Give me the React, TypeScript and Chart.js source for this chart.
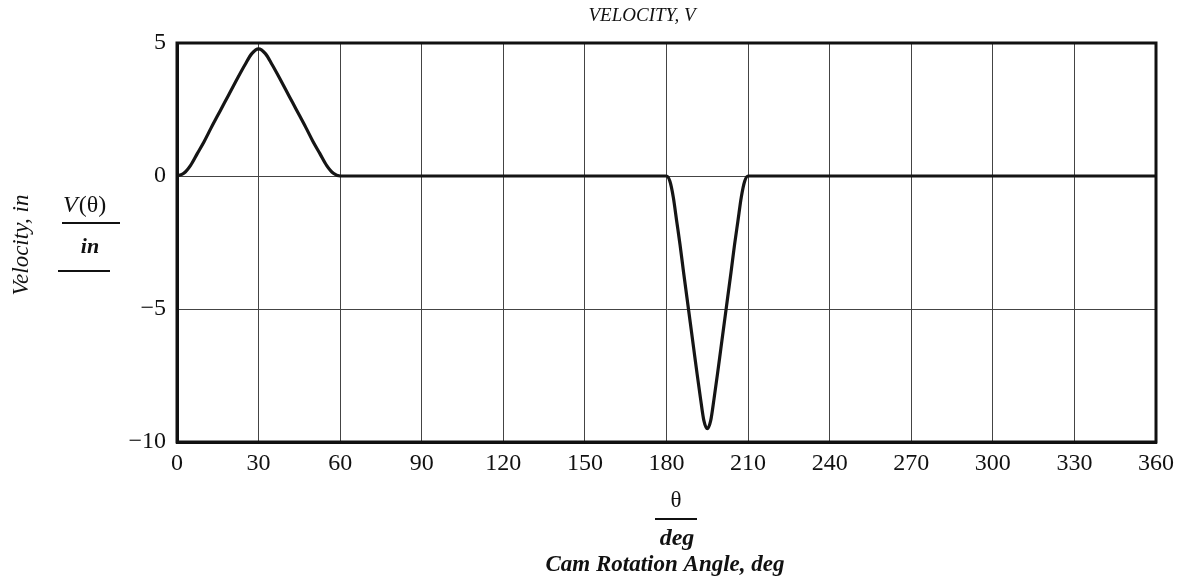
import React, { useEffect, useRef } from "react";
import { Chart, registerables } from "chart.js";

Chart.register(...registerables);

// Cam rotation angle (deg) and velocity V(θ) (in)
const riseAngles = [0, 2.5, 5, 7.5, 10, 12.5, 15, 17.5, 20, 22.5, 25, 27.5, 30, 32.5, 35, 37.5, 40, 42.5, 45, 47.5, 50, 52.5, 55, 57.5, 60];
const riseVelocity = [0, 0.1, 0.4, 0.85, 1.3, 1.8, 2.28, 2.76, 3.24, 3.72, 4.18, 4.6, 4.78, 4.6, 4.18, 3.72, 3.24, 2.76, 2.28, 1.8, 1.3, 0.85, 0.4, 0.1, 0];
const dwellAngles = [90, 120, 150, 180];
const dwellVelocity = [0, 0, 0, 0];
const returnAngles = [181.25, 182.5, 183.75, 185, 186.25, 187.5, 188.75, 190, 191.25, 192.5, 193.75, 195, 196.25, 197.5, 198.75, 200, 201.25, 202.5, 203.75, 205, 206.25, 207.5, 208.75, 210];
const returnVelocity = [-0.2, -0.8, -1.7, -2.6, -3.6, -4.56, -5.52, -6.48, -7.44, -8.36, -9.2, -9.5, -9.2, -8.36, -7.44, -6.48, -5.52, -4.56, -3.6, -2.6, -1.7, -0.8, -0.2, 0];
const finalAngles = [240, 270, 300, 330, 360];
const finalVelocity = [0, 0, 0, 0, 0];

const xTicks = [0, 30, 60, 90, 120, 150, 180, 210, 240, 270, 300, 330, 360];
const yTicks = [-10, -5, 0, 5];

const titleText = "VELOCITY, V";
const yAxisTitle = "Velocity, in";
const yFracBottom = "in";
const xFracTop = "θ";
const xFracBottom = "deg";
const xAxisTitle = "Cam Rotation Angle, deg";

const SERIF = '"Liberation Serif", "DejaVu Serif", serif';

export default function App() {
  const ref = useRef<HTMLCanvasElement | null>(null);

  useEffect(() => {
    document.body.style.margin = "0";
    const canvas = ref.current!;
    const angles = [...riseAngles, ...dwellAngles, ...returnAngles, ...finalAngles];
    const vel = [...riseVelocity, ...dwellVelocity, ...returnVelocity, ...finalVelocity];
    const data = angles.map((a, i) => ({ x: a, y: vel[i] }));

    const decor = {
      id: "decor",
      afterDatasetsDraw(chart: any) {
        const ctx = chart.ctx as CanvasRenderingContext2D;
        const a = chart.chartArea;
        ctx.save();
        ctx.strokeStyle = "#111";
        ctx.lineWidth = 3;
        ctx.strokeRect(a.left, a.top, a.right - a.left, a.bottom - a.top);

        ctx.fillStyle = "#111";
        ctx.textAlign = "center";
        ctx.textBaseline = "middle";

        // title
        ctx.font = `italic 19px ${SERIF}`;
        ctx.fillText(titleText, 642, 16);

        // y-axis title (rotated)
        ctx.save();
        ctx.translate(22, 245);
        ctx.rotate(-Math.PI / 2);
        ctx.font = `italic 23px ${SERIF}`;
        ctx.fillText(yAxisTitle, 0, 0);
        ctx.restore();

        // y fraction
        ctx.font = `italic 24px ${SERIF}`;
        ctx.textAlign = "left";
        ctx.fillText("V", 63, 206);
        const vw = ctx.measureText("V").width;
        ctx.font = `24px ${SERIF}`;
        ctx.fillText("(θ)", 63 + vw + 1, 206);
        ctx.textAlign = "center";
        ctx.lineWidth = 2;
        ctx.beginPath();
        ctx.moveTo(62, 223);
        ctx.lineTo(120, 223);
        ctx.moveTo(58, 271);
        ctx.lineTo(110, 271);
        ctx.stroke();
        ctx.font = `bold italic 22px ${SERIF}`;
        ctx.fillText(yFracBottom, 90, 247);

        // x fraction
        ctx.font = `23px ${SERIF}`;
        ctx.fillText(xFracTop, 676, 501);
        ctx.beginPath();
        ctx.moveTo(655, 519);
        ctx.lineTo(697, 519);
        ctx.stroke();
        ctx.font = `bold italic 24px ${SERIF}`;
        ctx.fillText(xFracBottom, 677, 539);
        ctx.font = `bold italic 23px ${SERIF}`;
        ctx.fillText(xAxisTitle, 665, 565);
        ctx.restore();
      },
    };

    const chart = new Chart(canvas, {
      type: "line",
      data: {
        datasets: [
          {
            data,
            borderColor: "#151515",
            borderWidth: 3.2,
            pointRadius: 0,
            tension: 0.35,
            cubicInterpolationMode: "monotone",
            fill: false,
            borderCapStyle: "round",
            borderJoinStyle: "round",
          } as any,
        ],
      },
      options: {
        responsive: false,
        animation: false,
        events: [],
        layout: { padding: { left: 0, right: 32, top: 43, bottom: 0 } },
        plugins: { legend: { display: false }, title: { display: false }, tooltip: { enabled: false } },
        scales: {
          x: {
            type: "linear",
            min: 0,
            max: 360,
            afterBuildTicks: (s: any) => {
              s.ticks = xTicks.map((v) => ({ value: v }));
            },
            afterFit: (s: any) => {
              s.height = 139;
            },
            grid: { color: "#444", lineWidth: 1, drawTicks: false },
            border: { color: "#111", width: 3 },
            ticks: {
              color: "#111",
              padding: 7,
              maxRotation: 0,
              autoSkip: false,
              font: { family: SERIF, size: 24 },
              callback: (v: any) => String(v),
            },
          },
          y: {
            type: "linear",
            min: -10,
            max: 5,
            afterBuildTicks: (s: any) => {
              s.ticks = yTicks.map((v) => ({ value: v }));
            },
            afterFit: (s: any) => {
              s.width = 177;
            },
            grid: { color: "#444", lineWidth: 1, drawTicks: false },
            border: { color: "#111", width: 3 },
            ticks: {
              color: "#111",
              padding: 11,
              font: { family: SERIF, size: 24 },
              callback: (v: any) => String(v).replace("-", "\u2212"),
            },
          },
        },
      },
      plugins: [decor],
    });
    return () => chart.destroy();
  }, []);

  return (
    <div style={{ position: "fixed", left: 0, top: 0, width: 1188, height: 581, background: "#fff" }}>
      <canvas ref={ref} width={1188} height={581} />
    </div>
  );
}
